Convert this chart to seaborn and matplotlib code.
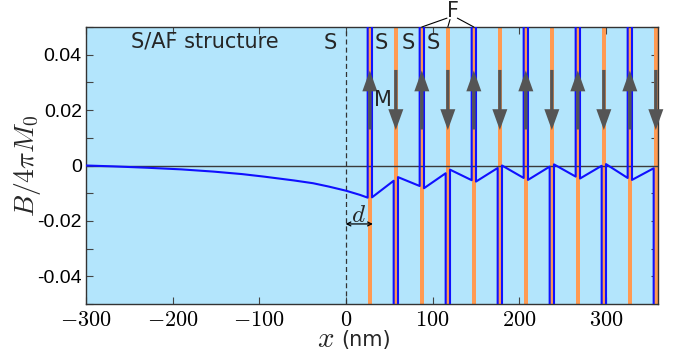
import numpy as np
import pandas as pd
import matplotlib
matplotlib.use("Agg")
import matplotlib.pyplot as plt
import seaborn as sns
from matplotlib.ticker import MultipleLocator, FuncFormatter

# ---------------- data ----------------
# smooth field decaying into the superconductor left of the first F layer
left_x = [-300, -270, -230, -190, -153, -120, -95, -60, -38, -20, 0, 16, 25]
left_B = [0.0, -0.0003, -0.0008, -0.0014, -0.0022, -0.0031, -0.0040,
          -0.0054, -0.0064, -0.0076, -0.0091, -0.0106, -0.0116]

# ferromagnetic layers: left edges (nm), thickness, magnetisation direction
f_left = [25, 55, 85, 115, 145, 175, 205, 235, 265, 295, 325, 355]
f_width = 5
f_dir = [1, -1, 1, -1, 1, -1, 1, -1, 1, -1, 1, -1]
f_inside = 1.0  # B/4piM0 inside an F layer (off-scale)

# field at the two ends of every S interlayer (between consecutive F layers)
s_start = [-0.0115, -0.0042, -0.0082, -0.0015, -0.0058, 0.0000,
           -0.0052, 0.0004, -0.0047, 0.0005, -0.0052]
s_end = [-0.0055, -0.0074, -0.0028, -0.0053, -0.0009, -0.0045,
         -0.0004, -0.0040, -0.0001, -0.0045, -0.0010]

x_ticks = [-300, -200, -100, 0, 100, 200, 300]
y_ticks = [-0.04, -0.02, 0, 0.02, 0.04]
y_ticklabels = ["-0.04", "-0.02", "0", "0.02", "0.04"]

# ---------------- build the path ----------------
px, py = list(left_x), list(left_B)
for i, (fl, d) in enumerate(zip(f_left, f_dir)):
    px += [fl, fl + f_width]
    py += [d * f_inside, d * f_inside]
    if i < len(s_start):
        px += [fl + f_width, f_left[i + 1]]
        py += [s_start[i], s_end[i]]
df = pd.DataFrame({"x": px, "B": py})

# ---------------- plot ----------------
sns.set_theme(style="white")
plt.rcParams["font.family"] = ["DejaVu Sans"]
plt.rcParams["mathtext.fontset"] = "cm"

BG = "#B3E5FC"
ORANGE = "#FF9A52"
ARROW = "#555555"

fig = plt.figure(figsize=(6.79, 3.56), dpi=100)
ax = fig.add_axes([86 / 679, 1 - 304 / 356, 572 / 679, 277 / 356])
ax.set_facecolor(BG)
ax.set_xlim(-300, 360)
ax.set_ylim(-0.05, 0.05)

for fl in f_left:
    ax.axvspan(fl, fl + f_width, color=ORANGE, lw=0, zorder=1)

ax.axhline(0, color="#3a3a3a", lw=1.0, zorder=2)
ax.axvline(0, color="#333333", lw=0.9, ls=(0, (4, 2.5)), zorder=2)

sns.lineplot(data=df, x="x", y="B", sort=False, estimator=None,
             color="#1010FF", lw=1.5, ax=ax, zorder=3)

# magnetisation arrows
for fl, d in zip(f_left, f_dir):
    xc = fl + f_width / 2
    if d > 0:
        tail, tip = 0.0130, 0.0343
    else:
        tail, tip = 0.0345, 0.0128
    ax.annotate("", xy=(xc, tip), xytext=(xc, tail),
                arrowprops=dict(arrowstyle="simple,head_length=1.5,head_width=1.08,tail_width=0.24",
                                mutation_scale=10, color=ARROW, lw=0,
                                shrinkA=0, shrinkB=0),
                zorder=4, annotation_clip=False)

# texts
ax.text(-162.7, 0.0447, "S/AF structure", fontsize=15, ha="center", va="center")
for sx in [-18.5, 41.2, 71.9, 101.2]:
    ax.text(sx, 0.0441, "S", fontsize=15, ha="center", va="center", zorder=5)
ax.text(42.1, 0.0236, "M", fontsize=15, ha="center", va="center", zorder=5)
ax.text(124, 0.0556, "F", fontsize=15, ha="center", va="center", clip_on=False)
for (x0, y0, x1, y1) in [(116.5, 0.0532, 87.5, 0.05), (120, 0.0527, 117.5, 0.05),
                         (128.5, 0.0532, 147.5, 0.05)]:
    ax.plot([x0, x1], [y0, y1], color="black", lw=0.8, clip_on=False)

ax.annotate("", xy=(31, -0.0211), xytext=(-0.5, -0.0211),
            arrowprops=dict(arrowstyle="<->", color="black", lw=0.9,
                            mutation_scale=7, shrinkA=0, shrinkB=0), zorder=5)
ax.text(14.8, -0.0177, "$d$", fontsize=18, ha="center", va="center", zorder=5)

# axes styling
ax.set_xticks(x_ticks)
ax.xaxis.set_major_formatter(FuncFormatter(lambda v, p: f"${v:g}$"))
ax.set_yticks(y_ticks)
ax.set_yticklabels(y_ticklabels, fontfamily="Liberation Sans", fontsize=14)
ax.yaxis.set_minor_locator(MultipleLocator(0.01))
for lab in ax.get_xticklabels():
    lab.set_fontsize(16)
ax.tick_params(axis="both", which="both", direction="in", top=True, right=True,
               bottom=True, left=True, length=5, width=0.8, color="#444444",
               labelcolor="black")
ax.tick_params(axis="x", pad=4)
ax.tick_params(axis="y", pad=3)
for sp in ax.spines.values():
    sp.set_color("#333333")
    sp.set_linewidth(1.0)

# x label: large italic x followed by "(nm)"
ax.set_xlabel("")
fig.text(326 / 679, 1 - 339 / 356, "$x$", fontsize=21, ha="center", va="center")
fig.text(341 / 679, 1 - 340 / 356, "(nm)", fontsize=15, ha="left", va="center")
ax.set_ylabel(r"$B/4\pi M_0$", fontsize=20)
ax.yaxis.set_label_coords(-0.076, 0.5)

fig.savefig("out.png", dpi=100)
